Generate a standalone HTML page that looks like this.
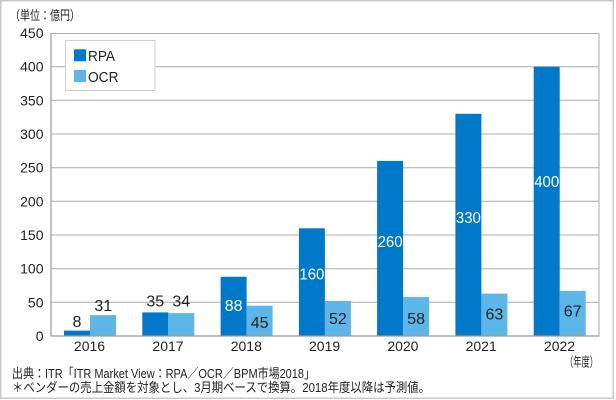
<!DOCTYPE html>
<html>
<head>
<meta charset="utf-8">
<style>
html,body{margin:0;padding:0;background:#fff;}
svg{display:block;}
text{font-family:"Liberation Sans","Noto Sans CJK JP",sans-serif;fill:#222;}
</style>
</head>
<body>
<svg width="616" height="400" viewBox="0 0 616 400" xmlns="http://www.w3.org/2000/svg">
  <rect x="0" y="0" width="616" height="400" fill="#fff"/>
  <!-- outer border -->
  <rect x="0.75" y="0.75" width="612.5" height="397.5" fill="none" stroke="#c8c8c8" stroke-width="1.5"/>

  <!-- gridlines -->
  <g stroke="#acacac" stroke-width="1">
    <line x1="51" y1="302.3" x2="599" y2="302.3"/>
    <line x1="51" y1="268.7" x2="599" y2="268.7"/>
    <line x1="51" y1="235" x2="599" y2="235"/>
    <line x1="51" y1="201.3" x2="599" y2="201.3"/>
    <line x1="51" y1="167.7" x2="599" y2="167.7"/>
    <line x1="51" y1="134" x2="599" y2="134"/>
    <line x1="51" y1="100.3" x2="599" y2="100.3"/>
    <line x1="51" y1="66.7" x2="599" y2="66.7"/>
    <line x1="51" y1="33.5" x2="599" y2="33.5"/>
    <line x1="599" y1="33" x2="599" y2="336"/>
  </g>

  <!-- bars RPA -->
  <g fill="#0079CB">
    <rect x="64" y="330.6" width="26" height="5.4"/>
    <rect x="142.3" y="312.4" width="26" height="23.6"/>
    <rect x="220.6" y="276.75" width="26" height="59.25"/>
    <rect x="298.9" y="228.3" width="26" height="107.7"/>
    <rect x="377.1" y="160.9" width="26" height="175.1"/>
    <rect x="455.4" y="113.8" width="26" height="222.2"/>
    <rect x="533.7" y="66.7" width="26" height="269.3"/>
  </g>
  <!-- bars OCR -->
  <g fill="#5CB6E8">
    <rect x="90" y="315.1" width="26" height="20.9"/>
    <rect x="168.3" y="313.1" width="26" height="22.9"/>
    <rect x="246.6" y="305.7" width="26" height="30.3"/>
    <rect x="324.9" y="301" width="26" height="35"/>
    <rect x="403.1" y="297" width="26" height="39"/>
    <rect x="481.4" y="293.6" width="26" height="42.4"/>
    <rect x="559.7" y="290.9" width="26" height="45.1"/>
  </g>

  <!-- axes -->
  <g stroke="#9a9a9a" stroke-width="1.2">
    <line x1="51" y1="33" x2="51" y2="336.5"/>
    <line x1="50.5" y1="336" x2="599.5" y2="336"/>
  </g>

  <!-- y tick labels -->
  <g font-size="14" text-anchor="end">
    <text x="43.5" y="341">0</text>
    <text x="43.5" y="307.3">50</text>
    <text x="43.5" y="273.7">100</text>
    <text x="43.5" y="240">150</text>
    <text x="43.5" y="206.3">200</text>
    <text x="43.5" y="172.7">250</text>
    <text x="43.5" y="139">300</text>
    <text x="43.5" y="105.3">350</text>
    <text x="43.5" y="71.7">400</text>
    <text x="43.5" y="38">450</text>
  </g>

  <!-- x labels -->
  <g font-size="14" text-anchor="middle">
    <text x="89.5" y="351">2016</text>
    <text x="168" y="351">2017</text>
    <text x="246.3" y="351">2018</text>
    <text x="324.6" y="351">2019</text>
    <text x="402.9" y="351">2020</text>
    <text x="481.2" y="351">2021</text>
    <text x="559.5" y="351">2022</text>
  </g>

  <!-- data labels -->
  <g font-size="16" text-anchor="middle">
    <text x="77" y="327">8</text>
    <text x="103.3" y="311">31</text>
    <text x="155.3" y="306.5">35</text>
    <text x="181.3" y="306.5">34</text>
    <text x="233.6" y="311" style="fill:#fff">88</text>
    <text x="259.6" y="328">45</text>
    <text x="311.9" y="279.5" style="fill:#fff" textLength="25" lengthAdjust="spacingAndGlyphs">160</text>
    <text x="337.9" y="324">52</text>
    <text x="390.1" y="247" style="fill:#fff" textLength="25" lengthAdjust="spacingAndGlyphs">260</text>
    <text x="416.1" y="324">58</text>
    <text x="468.4" y="223" style="fill:#fff" textLength="25" lengthAdjust="spacingAndGlyphs">330</text>
    <text x="494.4" y="319.5">63</text>
    <text x="546.7" y="187" style="fill:#fff" textLength="25" lengthAdjust="spacingAndGlyphs">400</text>
    <text x="572.7" y="316.5">67</text>
  </g>

  <!-- legend -->
  <rect x="65.5" y="40.5" width="89.5" height="50" fill="#fff" stroke="#cfcfcf" stroke-width="1"/>
  <rect x="74" y="49.3" width="12" height="12" fill="#0079CB"/>
  <rect x="74" y="70" width="12" height="12" fill="#5CB6E8"/>
  <text x="88" y="61" font-size="15" textLength="27" lengthAdjust="spacingAndGlyphs">RPA</text>
  <text x="88" y="82" font-size="15" textLength="30.5" lengthAdjust="spacingAndGlyphs">OCR</text>

  <!-- unit labels -->
  <text x="10" y="20" font-size="13" textLength="70" lengthAdjust="spacingAndGlyphs">（単位：億円）</text>
  <text x="565" y="366.5" font-size="13" textLength="33" lengthAdjust="spacingAndGlyphs">（年度）</text>

  <!-- footer -->
  <text x="12" y="378" font-size="13" textLength="303" lengthAdjust="spacingAndGlyphs">出典：ITR「ITR Market View：RPA／OCR／BPM市場2018」</text>
  <text x="12" y="392" font-size="13" textLength="418" lengthAdjust="spacingAndGlyphs">＊ベンダーの売上金額を対象とし、3月期ベースで換算。2018年度以降は予測値。</text>
</svg>
</body>
</html>
